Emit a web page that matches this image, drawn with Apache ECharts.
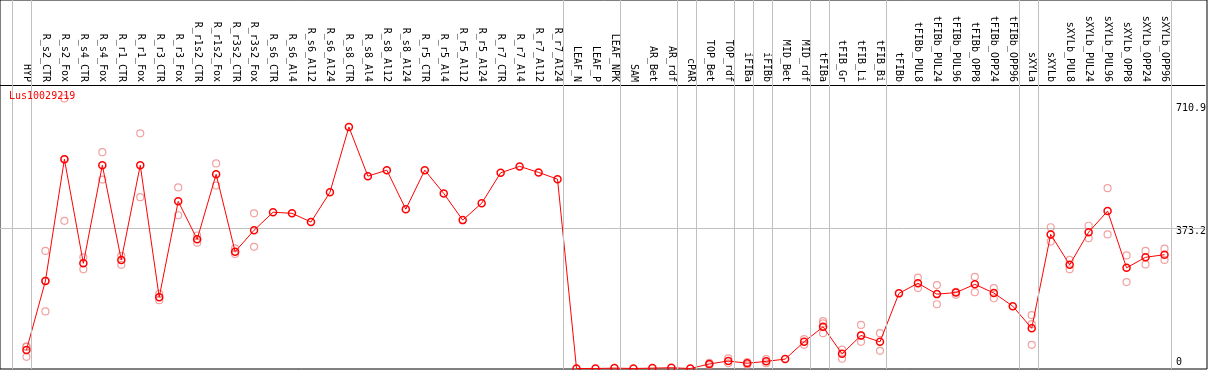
<!DOCTYPE html>
<html>
<head>
<meta charset="utf-8">
<script src="https://cdn.jsdelivr.net/npm/echarts@6/dist/echarts.min.js"></script>
<style>
  html, body { margin: 0; padding: 0; background: #fff; }
  #chart { width: 1209px; height: 370px; }
</style>
</head>
<body>
<div id="chart"></div>
<script>
// samples along the x axis
var categories = ['HYP', 'R_s2_CTR', 'R_s2_Fox', 'R_s4_CTR', 'R_s4_Fox', 'R_r1_CTR', 'R_r1_Fox',
  'R_r3_CTR', 'R_r3_Fox', 'R_r1s2_CTR', 'R_r1s2_Fox', 'R_r3s2_CTR', 'R_r3s2_Fox',
  'R_s6_CTR', 'R_s6_Al4', 'R_s6_Al12', 'R_s6_Al24', 'R_s8_CTR', 'R_s8_Al4', 'R_s8_Al12', 'R_s8_Al24',
  'R_r5_CTR', 'R_r5_Al4', 'R_r5_Al12', 'R_r5_Al24', 'R_r7_CTR', 'R_r7_Al4', 'R_r7_Al12', 'R_r7_Al24',
  'LEAF_N', 'LEAF_P', 'LEAF_NPK', 'SAM', 'AR_Bet', 'AR_rdf', 'cPAR', 'TOP_Bet', 'TOP_rdf',
  'iFIBa', 'iFIBb', 'MID_Bet', 'MID_rdf', 'tFIBa', 'tFIB_Gr', 'tFIB_Li', 'tFIB_Bi', 'tFIBb',
  'tFIBb_PUL8', 'tFIBb_PUL24', 'tFIBb_PUL96', 'tFIBb_OPP8', 'tFIBb_OPP24', 'tFIBb_OPP96',
  'sXYLa', 'sXYLb', 'sXYLb_PUL8', 'sXYLb_PUL24', 'sXYLb_PUL96', 'sXYLb_OPP8', 'sXYLb_OPP24', 'sXYLb_OPP96'];

// mean expression per sample
var means = [49, 233, 557, 280, 541, 289, 541, 190, 445, 344, 517, 311, 368,
  416, 413, 390, 469, 643, 512, 528, 424, 528, 466, 395, 440, 521, 538, 522, 504,
  0, 0, 1, 0, 1, 2, 0, 12, 20, 14, 19, 25, 71, 111, 39, 88, 71, 200,
  227, 198, 202, 224, 201, 166, 107, 357, 276, 363, 419, 268, 296, 303];

// individual replicates (empty where none is visible)
var reps = [[58, 31, 58], [313, 152, 233], [719, 393, 557], [296, 264], [576, 503], [300, 276], [626, 456],
  [199, 182], [482, 408], [354, 335], [546, 487], [320, 305], [413, 324],
  [], [], [], [], [], [], [], [], [], [], [], [], [], [], [], [],
  [], [], [], [], [], [], [], [15, 9], [27, 14], [17, 10], [25, 14], [], [78, 63], [126, 120, 94],
  [26, 50], [116, 88, 71], [94, 47], [],
  [242, 214], [222, 171], [204, 196], [244, 203], [214, 187], [], [142, 118, 63],
  [376, 338], [289, 264], [380, 347], [480, 357], [301, 230], [313, 277], [319, 289]];

// last sample of each group (vertical separators)
var groupEnds = [-1, 0, 28, 31, 34, 35, 37, 38, 39, 41, 42, 45, 52, 53, 60];

var yTicks = [0, 373.2, 710.9];
var geneName = 'Lus10029219';

var mono = 'DejaVu Sans Mono';
var xMin = -1.395, xMax = 62.13;

var repPoints = [];
reps.forEach(function (r, i) {
  r.forEach(function (v) { repPoints.push([i, v]); });
});

var myChart = echarts.init(document.getElementById('chart'));
var option = {
  backgroundColor: '#fff',
  animation: false,
  title: {
    text: geneName,
    left: 9,
    top: 91,
    padding: 0,
    textStyle: { color: '#ff0000', fontSize: 10, fontWeight: 'normal', fontFamily: mono }
  },
  grid: [
    { left: 0, right: 2, top: 0, bottom: 1, show: true, borderColor: '#000', borderWidth: 1 },
    { left: 0, right: 2, top: 85, bottom: 1.5 }
  ],
  xAxis: [
    { type: 'value', gridIndex: 0, min: xMin, max: xMax, show: false },
    {
      type: 'value', gridIndex: 1, min: xMin, max: xMax, position: 'top',
      axisLine: { show: true, onZero: false, lineStyle: { color: '#000', width: 1 } },
      axisTick: { show: false },
      splitLine: { show: false },
      axisLabel: {
        customValues: categories.map(function (c, i) { return i; }),
        formatter: function (v) { return categories[v]; },
        rotate: 90,
        margin: 3,
        color: '#000',
        fontSize: 10,
        fontFamily: mono
      }
    }
  ],
  yAxis: [
    { type: 'value', gridIndex: 0, min: 0, max: 1, show: false },
    {
      type: 'value', gridIndex: 1, min: 0, max: 754.7, position: 'right',
      axisLine: { show: false },
      axisTick: { show: false },
      splitLine: { show: false },
      axisLabel: {
        customValues: yTicks,
        inside: true,
        align: 'left',
        margin: 29,
        color: '#000',
        fontSize: 10,
        fontFamily: mono,
        formatter: function (v) {
          if (v === 0) return '{up|0}';
          return (v > 500 ? '{hi|' : '{dn|') + v + '}';
        },
        rich: {
          up: { padding: [0, 0, 13, 0], fontSize: 10, fontFamily: mono },
          dn: { padding: [6, 0, 0, 0], fontSize: 10, fontFamily: mono, backgroundColor: '#fff' },
          hi: { padding: [13, 0, 0, 0], fontSize: 10, fontFamily: mono }
        }
      }
    }
  ],
  series: [
    {
      // vertical group separators through header and plot
      type: 'line',
      xAxisIndex: 0,
      yAxisIndex: 0,
      data: [],
      silent: true,
      markLine: {
        symbol: 'none',
        silent: true,
        label: { show: false },
        lineStyle: { color: '#c0c0c0', type: 'solid', width: 1 },
        data: groupEnds.map(function (g) { return { xAxis: g + 0.25 }; })
      }
    },
    {
      name: 'replicates',
      type: 'scatter',
      xAxisIndex: 1,
      yAxisIndex: 1,
      data: repPoints,
      symbol: 'circle',
      symbolSize: 7,
      z: 2,
      itemStyle: { color: 'rgba(0,0,0,0)', borderColor: '#ec8a8a', borderWidth: 1.2 }
    },
    {
      name: 'mean',
      type: 'line',
      xAxisIndex: 1,
      yAxisIndex: 1,
      data: means.map(function (v, i) { return [i, v]; }),
      symbol: 'circle',
      symbolSize: 7,
      z: 3,
      lineStyle: { color: '#ff0000', width: 1 },
      itemStyle: { color: 'rgba(0,0,0,0)', borderColor: '#ff0000', borderWidth: 1.5 },
      markLine: {
        symbol: 'none',
        silent: true,
        z: 1,
        label: { show: false },
        lineStyle: { color: '#c0c0c0', type: 'solid', width: 1 },
        data: [{ yAxis: yTicks[1] }]
      }
    }
  ]
};
myChart.setOption(option);
</script>
</body>
</html>
